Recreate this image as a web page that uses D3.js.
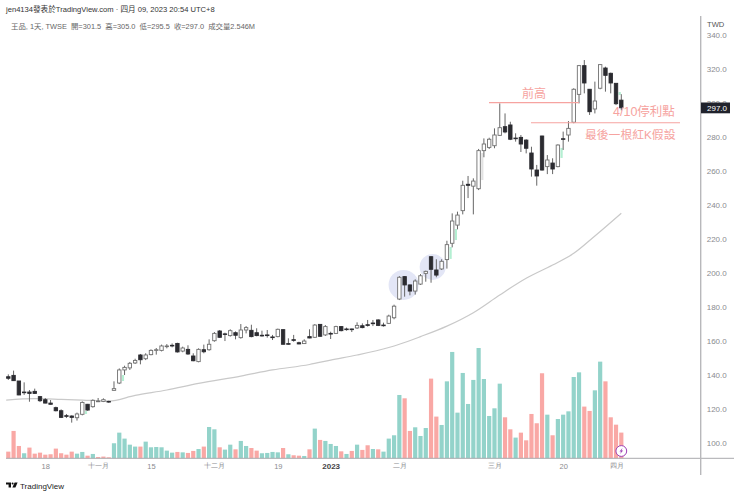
<!DOCTYPE html>
<html>
<head>
<meta charset="utf-8">
<style>
    html, body { margin: 0; padding: 0; background: #fff; }
    svg { display: block; font-family: "Liberation Sans", "Noto Sans CJK TC", sans-serif; }
</style>
<script src="https://cdn.jsdelivr.net/npm/d3@7"></script>
</head>
<body>
<div id="chart"></div>
<script>
const opens = [
    138.8, 139.6, 136.3, 129.8, 129.8, 130.2, 127.1, 125.3, 123.3, 120.6, 118.8, 115.9, 115.7, 114.7, 116.7, 122.6, 121.2, 124.1, 124.3, 124.3,
    130.8, 135.1, 142.8, 144.0, 146.9, 151.6, 149.4, 151.8, 154.3, 154.3, 156.5, 157.3, 158.4, 153.9, 154.9, 151.0, 147.7, 154.7, 154.7, 160.0,
    165.7, 164.0, 163.0, 164.7, 161.8, 166.3, 166.1, 164.7, 163.2, 163.4, 162.2, 162.4, 166.5, 158.3, 160.6, 158.8, 158.3, 162.4, 162.0, 169.6,
    163.4, 164.3, 164.3, 168.3, 166.9, 166.9, 167.5, 168.8, 169.4, 170.4, 172.2, 169.2, 170.2, 173.5, 184.5, 197.7, 192.8, 189.2, 193.3, 199.6,
    209.4, 201.6, 202.2, 207.7, 217.3, 228.0, 236.5, 252.0, 250.9, 249.4, 271.8, 273.7, 274.7, 280.8, 285.9, 286.9, 279.2, 279.6, 278.0, 270.4,
    260.4, 280.4, 262.4, 264.5, 262.4, 278.8, 281.0, 288.5, 304.9, 321.8, 307.9, 296.3, 308.5, 320.4, 317.3, 311.4, 301.5
];
const highs = [
    140.2, 142.4, 136.3, 135.5, 131.0, 131.8, 127.5, 126.3, 125.1, 121.2, 119.6, 116.9, 116.1, 117.7, 124.3, 122.8, 125.5, 126.3, 126.1, 124.7,
    136.1, 143.7, 145.3, 147.5, 149.4, 152.2, 152.6, 154.9, 155.7, 157.7, 158.0, 158.4, 158.8, 156.5, 157.3, 152.6, 155.5, 157.7, 160.8, 165.1,
    166.3, 164.7, 166.7, 165.5, 169.8, 168.6, 169.4, 167.3, 165.9, 166.3, 163.4, 167.1, 166.7, 161.4, 163.4, 159.4, 160.8, 166.7, 169.8, 169.8,
    169.2, 165.3, 168.8, 168.6, 167.7, 167.1, 170.8, 170.2, 172.2, 172.2, 172.6, 170.6, 175.3, 181.2, 198.0, 198.0, 193.1, 196.1, 199.2, 201.2,
    209.8, 207.9, 207.9, 218.8, 234.9, 235.9, 254.1, 256.9, 255.5, 272.8, 279.0, 279.4, 284.9, 299.6, 293.7, 288.8, 282.0, 281.0, 278.5, 274.1,
    263.4, 280.6, 269.2, 267.3, 275.5, 283.0, 289.2, 308.5, 322.2, 325.1, 307.9, 312.4, 322.6, 321.2, 317.7, 311.4, 305.0
];
const lows = [
    136.9, 136.3, 127.9, 128.1, 124.1, 128.7, 123.9, 123.2, 122.4, 118.4, 114.5, 114.5, 111.8, 113.0, 116.1, 118.8, 120.6, 123.9, 123.9, 123.5,
    130.6, 134.5, 139.8, 142.8, 146.3, 146.1, 148.6, 151.4, 151.8, 153.7, 155.5, 156.1, 153.0, 153.2, 151.6, 147.9, 147.3, 152.6, 154.1, 159.4,
    161.6, 159.8, 162.4, 160.8, 161.2, 164.3, 162.0, 162.6, 162.4, 161.8, 160.4, 162.0, 157.7, 157.7, 159.4, 157.9, 158.1, 161.4, 161.6, 162.2,
    162.8, 161.0, 163.9, 165.5, 165.9, 165.1, 166.9, 167.3, 168.3, 168.6, 168.6, 168.3, 169.8, 172.6, 183.9, 185.9, 186.7, 187.1, 192.8, 194.7,
    194.1, 197.3, 201.6, 202.4, 214.9, 225.5, 234.3, 243.9, 234.3, 248.6, 267.9, 272.8, 273.2, 280.4, 282.0, 278.0, 277.1, 271.0, 270.2, 256.5,
    251.2, 260.0, 258.0, 258.0, 262.0, 272.2, 277.1, 287.9, 299.6, 305.5, 292.8, 293.7, 307.9, 306.5, 305.5, 298.6, 295.5
];
const closes = [
    137.9, 136.5, 128.1, 129.4, 129.0, 129.0, 124.7, 123.3, 122.6, 118.8, 114.9, 115.5, 114.9, 116.9, 123.7, 119.2, 124.9, 124.5, 125.3, 123.9,
    131.8, 142.8, 144.3, 146.7, 148.4, 148.8, 151.6, 154.3, 154.7, 156.9, 156.9, 156.9, 153.4, 155.7, 152.2, 148.2, 154.9, 153.5, 157.9, 164.3,
    162.0, 163.8, 165.9, 163.2, 166.3, 167.7, 162.4, 163.0, 162.8, 163.0, 161.8, 166.7, 157.9, 157.9, 160.2, 158.1, 159.8, 161.6, 169.2, 162.6,
    168.3, 163.9, 168.3, 165.9, 166.5, 166.5, 169.0, 167.7, 169.0, 170.0, 169.0, 168.8, 174.5, 180.3, 197.3, 192.8, 189.2, 195.1, 198.2, 200.8,
    202.0, 198.6, 206.7, 216.5, 230.4, 233.9, 251.4, 251.4, 253.9, 271.8, 275.7, 278.5, 281.0, 285.3, 282.8, 278.5, 278.8, 275.7, 273.2, 261.0,
    256.9, 260.4, 266.3, 261.0, 275.1, 278.5, 284.9, 307.9, 321.8, 311.6, 294.7, 301.0, 322.4, 316.1, 311.6, 299.4, 297.0
];
const volumes = [
    0.66, 2.71, 1.22, 0.50, 1.06, 0.46, 0.56, 0.36, 0.40, 0.96, 0.50, 0.36, 0.66, 0.46, 0.63, 0.26, 0.43, 0.13, 0.17, 0.10,
    1.49, 2.54, 1.95, 1.35, 1.16, 1.16, 1.65, 1.09, 1.12, 1.09, 0.76, 0.56, 0.63, 0.59, 0.53, 0.73, 0.92, 1.16, 3.10, 2.87,
    1.09, 0.86, 1.35, 0.89, 1.72, 1.22, 1.02, 0.76, 0.50, 0.53, 0.63, 0.59, 1.02, 0.40, 0.30, 0.26, 0.23, 0.89, 2.94, 1.82,
    1.72, 1.42, 1.22, 0.69, 0.43, 0.73, 1.35, 0.83, 1.29, 0.92, 0.89, 0.66, 1.95, 2.28, 6.27, 5.94, 2.71, 3.07, 2.21, 3.00,
    7.89, 4.13, 3.30, 7.62, 10.53, 4.52, 8.45, 5.38, 7.76, 10.92, 7.85, 4.19, 4.95, 7.39, 4.06, 2.87, 2.05, 2.54, 1.78, 4.39,
    3.47, 8.42, 4.32, 2.28, 3.89, 4.32, 4.65, 8.05, 8.51, 5.12, 4.69, 6.73, 9.57, 7.62, 4.06, 3.33, 2.546
];
// bars drawn in red
const redVolumeBars = [
    0, 1, 2, 4, 5, 6, 7, 8, 9, 10, 11, 12, 15, 17, 18, 19, 25, 32, 34, 35, 37, 40, 43, 46, 47, 52, 54, 55, 57, 59,
    63, 65, 67, 68, 70, 75, 76, 80, 81, 94, 95, 97, 98, 99, 100, 101, 103, 109, 110, 113, 114, 115, 116
];

const maIndex = [-0.4, 5, 10, 14, 19, 24, 30, 36, 44, 50, 57, 61, 66, 72, 74, 78, 83, 88, 93, 98, 103, 107, 111, 116];
const maValues = [125.1, 125.9, 125.5, 125.1, 124.5, 127.8, 131.0, 134.9, 139.2, 142.8, 146.0, 148.6, 151.6, 156.0, 157.9, 162.4, 168.6, 176.5, 186.9, 196.7, 204.5, 211.4, 221.6, 235.0];

// pale green slivers beside a few candles
const sliverIndex = [14, 21, 83, 84, 89, 104, 115];
const sliverTop = [118.6, 139.8, 215.1, 225.7, 270.4, 273.4, 306.3];
const sliverBottom = [116.9, 136.3, 208.1, 219.2, 254.5, 267.5, 304.5];

const priceTicks = [100, 120, 140, 160, 180, 200, 220, 240, 260, 280, 300, 320, 340];
const timeTickIndex = [7, 17, 27, 39, 51, 61, 74, 92, 105, 115];
const timeTickLabels = ['18', '十一月', '15', '十二月', '19', '2023', '二月', '三月', '20', '四月'];

const lastPrice = 297.0;

const width = 740;
const height = 496;
const axisX = 700.7;
const baseY = 458.3;

const x = d3.scaleLinear().domain([0, 116]).range([8.3, 621.3]);
const y = d3.scaleLinear().domain([100, 340]).range([442.7, 34.7]);
const yVolume = d3.scaleLinear().domain([0, 10]).range([baseY, baseY - 101]);

const svg = d3.select('#chart')
    .append('svg')
    .attr('width', width)
    .attr('height', height)
    .attr('viewBox', [0, 0, width, height]);

// highlight circles sit under the candles
const highlights = svg.append('g');
highlights.append('circle').attr('cx', x(74.8)).attr('cy', y(192.8)).attr('r', 15).attr('fill', '#e3e6f6');
highlights.append('circle').attr('cx', x(80.3)).attr('cy', y(203.4)).attr('r', 13).attr('fill', '#e3e6f6');

// volume
const redSet = new Set(redVolumeBars);
svg.append('g')
    .selectAll('rect')
    .data(volumes)
    .enter().append('rect')
    .attr('x', (d, i) => x(i) - 2.1)
    .attr('width', 4.2)
    .attr('y', d => yVolume(d))
    .attr('height', d => baseY - yVolume(d))
    .attr('fill', (d, i) => redSet.has(i) ? '#f9a8a5' : '#93d3ca');

// moving average
const maLine = d3.line()
    .x(d => x(d[0]))
    .y(d => y(d[1]))
    .curve(d3.curveMonotoneX);

svg.append('path')
    .attr('d', maLine(maIndex.map((d, i) => [d, maValues[i]])))
    .attr('fill', 'none')
    .attr('stroke', '#c9c9c9')
    .attr('stroke-width', 1.2);

// slivers
svg.append('g')
    .selectAll('rect')
    .data(sliverIndex)
    .enter().append('rect')
    .attr('x', d => x(d) + 2.6)
    .attr('width', 2.2)
    .attr('y', (d, i) => y(sliverTop[i]))
    .attr('height', (d, i) => y(sliverBottom[i]) - y(sliverTop[i]))
    .attr('fill', d => d === 89 ? '#e2e2e2' : '#b4efd2');

// candles
const candles = svg.append('g')
    .selectAll('g')
    .data(opens)
    .enter().append('g');

candles.append('line')
    .attr('x1', (d, i) => x(i))
    .attr('x2', (d, i) => x(i))
    .attr('y1', (d, i) => y(highs[i]))
    .attr('y2', (d, i) => y(lows[i]))
    .attr('stroke', '#666')
    .attr('stroke-width', 1);

candles.append('rect')
    .attr('x', (d, i) => x(i) - 1.7)
    .attr('width', 3.4)
    .attr('y', (d, i) => y(Math.max(d, closes[i])))
    .attr('height', (d, i) => Math.max(0.6, Math.abs(y(d) - y(closes[i]))))
    .attr('fill', (d, i) => closes[i] < d ? '#2b2b30' : '#fff')
    .attr('stroke', (d, i) => closes[i] < d ? '#2b2b30' : '#707070')
    .attr('stroke-width', 0.9);

// frame
svg.append('line').attr('x1', 6).attr('x2', 734).attr('y1', baseY).attr('y2', baseY).attr('stroke', '#a9a9ad').attr('stroke-width', 1);
svg.append('line').attr('x1', axisX).attr('x2', axisX).attr('y1', 16).attr('y2', 475).attr('stroke', '#b8b8bb').attr('stroke-width', 1.4);

// axes
const priceAxis = svg.append('g')
    .attr('transform', `translate(${axisX},0)`)
    .call(d3.axisRight(y).tickValues(priceTicks).tickSize(0).tickPadding(6).tickFormat(d3.format('.1f')));
priceAxis.select('.domain').remove();
priceAxis.selectAll('text').attr('font-size', 8).attr('fill', '#8b8b8f').attr('font-family', 'inherit');

const timeAxis = svg.append('g')
    .attr('transform', `translate(0,${baseY})`)
    .call(d3.axisBottom(x).tickValues(timeTickIndex).tickSize(0).tickPadding(5).tickFormat((d, i) => timeTickLabels[i]));
timeAxis.select('.domain').remove();
timeAxis.selectAll('text')
    .attr('font-size', (d, i) => d === 61 ? 8 : (/\d/.test(timeTickLabels[i]) ? 7.5 : 7))
    .attr('font-family', 'inherit')
    .attr('fill', d => d === 61 ? '#444' : '#8b8b8f')
    .attr('font-weight', d => d === 61 ? 700 : 400);

svg.append('text').attr('x', 707).attr('y', 26.5).attr('font-size', 7.6).attr('fill', '#555').text('TWD');

// last price tag
svg.append('rect').attr('x', 701).attr('y', y(lastPrice) - 5.3).attr('width', 29).attr('height', 10.8).attr('fill', '#20222c');
svg.append('text').attr('x', 707).attr('y', y(lastPrice) + 3).attr('font-size', 8).attr('fill', '#fff').text(d3.format('.1f')(lastPrice));

// hand drawn annotations
const noteColor = '#f6a3a0';
const notes = svg.append('g');
notes.append('line').attr('x1', 489).attr('x2', 579).attr('y1', y(300)).attr('y2', y(300)).attr('stroke', noteColor).attr('stroke-width', 1.2);
notes.append('line').attr('x1', 531).attr('x2', 680).attr('y1', y(288.2)).attr('y2', y(288.2)).attr('stroke', noteColor).attr('stroke-width', 1.2);
notes.append('text').attr('x', 522).attr('y', 97.5).attr('font-size', 12).attr('fill', noteColor).text('前高');
notes.append('text').attr('x', 613).attr('y', 116).attr('font-size', 12.5).attr('fill', noteColor).text('4/10停利點');
notes.append('text').attr('x', 585).attr('y', 139).attr('font-size', 11.8).attr('fill', noteColor).text('最後一根紅K假設');

// purple flash marker on the last bar
const flash = svg.append('g').attr('transform', `translate(${x(116)},451)`);
flash.append('circle').attr('r', 5.4).attr('fill', '#fff').attr('stroke', '#9c3fb5').attr('stroke-width', 1);
flash.append('path').attr('d', 'M1.2,-3 L-1.8,0.5 L-0.2,0.5 L-1.2,3 L1.8,-0.5 L0.2,-0.5 Z').attr('fill', '#9c3fb5');

// header
svg.append('text').attr('x', 6).attr('y', 12.2).attr('font-size', 7.6).attr('fill', '#333')
    .text('jen4134發表於TradingView.com · 四月 09, 2023 20:54 UTC+8');
svg.append('text').attr('x', 11).attr('y', 28.7).attr('font-size', 7.4).attr('fill', '#666')
    .attr('xml:space', 'preserve')
    .text('王品, 1天, TWSE  開=301.5  高=305.0  低=295.5  收=297.0  成交量2.546M');

// TradingView logo
const logo = svg.append('g').attr('transform', 'translate(6,482.6)').attr('fill', '#111');
logo.append('path').attr('d', 'M0,0 H5 V4.8 H2.6 V2 H0 Z');
logo.append('circle').attr('cx', 6.6).attr('cy', 1).attr('r', 1);
logo.append('path').attr('d', 'M8.6,0 H11.6 L9.4,4.8 H6.4 Z');
svg.append('text').attr('x', 20).attr('y', 488.6).attr('font-size', 8).attr('fill', '#222').text('TradingView');
</script>
</body>
</html>
